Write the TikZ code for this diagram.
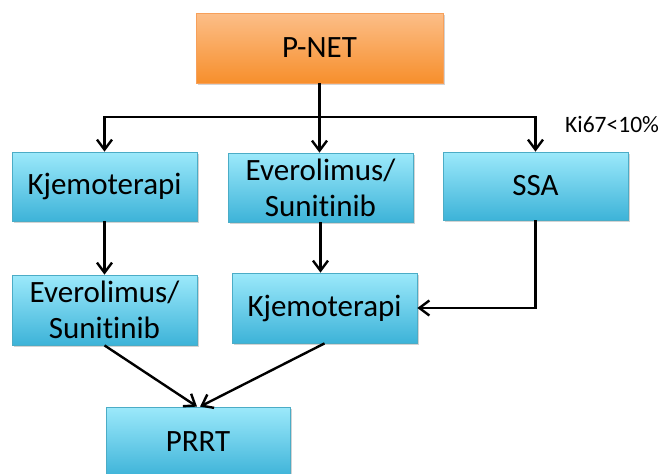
\documentclass[tikz,border=0pt]{standalone}
\usepackage{fontspec}
\setmainfont{Carlito}[Ligatures={NoCommon}]
\usetikzlibrary{arrows.meta,shadows}
\definecolor{otop}{HTML}{FCBE88}
\definecolor{obot}{HTML}{F78F2C}
\definecolor{oborder}{HTML}{F7A05A}
\definecolor{ctop}{HTML}{9CE9FB}
\definecolor{cbot}{HTML}{3DB3D8}
\definecolor{cborder}{HTML}{4BACC6}
\tikzset{
  box/.style={rectangle, draw=cborder, line width=0.8pt, top color=ctop, bottom color=cbot,
    minimum width=185pt, minimum height=69pt, inner sep=0pt, align=center,
    font=\fontsize{31}{36}\selectfont,
    drop shadow={opacity=0.35, shadow xshift=2pt, shadow yshift=-2pt}},
  obox/.style={box, draw=oborder, top color=otop, bottom color=obot, minimum width=247pt, minimum height=70pt},
  arr/.style={line width=2.4pt, -{Straight Barb[length=10pt,width=15pt,line width=2.4pt]}},
}
\begin{document}
\begin{tikzpicture}[x=1pt,y=-1pt]
\useasboundingbox (0,0) rectangle (662,474);
\clip (0,0) rectangle (662,474);
\node[obox] (pnet) at (319.5,48) {P-NET};
\node[box] (k1) at (104.5,186.5) {Kjemoterapi};
\node[box] (e1) at (320.5,187.5) {Everolimus/\\Sunitinib};
\node[box, minimum height=68pt] (ssa) at (535.5,186) {SSA};
\node[box, minimum height=70pt] (e2) at (104.5,310) {Everolimus/\\Sunitinib};
\node[box, minimum height=70pt] (k2) at (324.5,308) {Kjemoterapi};
\node[box, minimum width=184pt, minimum height=70pt] (prrt) at (198,442) {PRRT};
\node[anchor=west, inner sep=0pt, font=\fontsize{23.5}{27}\selectfont] (ki) at (565,125) {Ki67<10\%};
\coordinate (bus) at (pnet.south |- 0,117);
\draw[arr] (pnet.south) -- (pnet.south |- e1.north);
\draw[arr] (bus) -| (k1.north);
\draw[arr] (bus) -| (ssa.north);
\draw[arr] (k1.south) -- (k1.south |- e2.north);
\draw[arr] (e1.south) -- (e1.south |- k2.north);
\draw[arr] (ssa.south) |- (k2.east);
\draw[arr] (e2.south) -- ([xshift=-1pt]prrt.north);
\draw[arr] (k2.south) -- ([xshift=2pt]prrt.north);
\end{tikzpicture}
\end{document}
